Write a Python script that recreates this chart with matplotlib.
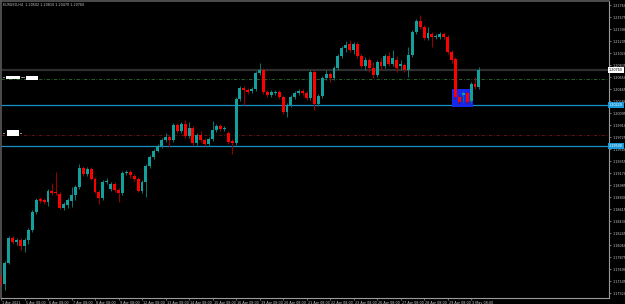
import matplotlib
matplotlib.use("Agg")
import matplotlib.pyplot as plt
import matplotlib.transforms as mtrans
from matplotlib.patches import Rectangle
import numpy as np

# ---------------- data (EURUSD H4) ----------------
opens = [1.1758, 1.1746, 1.1779, 1.1817, 1.1811, 1.1814, 1.1805, 1.1814, 1.1829, 1.1857,
         1.1877, 1.1876, 1.1873, 1.1890, 1.1888, 1.1885, 1.1863, 1.1868, 1.1874, 1.1883,
         1.1896, 1.1925, 1.1916, 1.1923, 1.1908, 1.1888, 1.1879, 1.1903, 1.1893, 1.1900,
         1.1891, 1.1886, 1.1917, 1.1919, 1.1913, 1.1908, 1.1890, 1.1903, 1.1928, 1.1942,
         1.1951, 1.1959, 1.1968, 1.1973, 1.1968, 1.1991, 1.1982, 1.1993, 1.1974, 1.1987,
         1.1964, 1.1976, 1.1968, 1.1962, 1.1970, 1.1984, 1.1990, 1.1985, 1.1979, 1.1967,
         1.1964, 1.2031, 1.2048, 1.2045, 1.2044, 1.2047, 1.2071, 1.2076, 1.2042, 1.2038,
         1.2041, 1.2042, 1.2034, 1.2011, 1.2022, 1.2034, 1.2041, 1.2044, 1.2041, 1.2033,
         1.2073, 1.2024, 1.2036, 1.2064, 1.2070, 1.2064, 1.2079, 1.2098, 1.2110, 1.2116,
         1.2107, 1.2116, 1.2098, 1.2082, 1.2091, 1.2079, 1.2068, 1.2088, 1.2082, 1.2098,
         1.2085, 1.2091, 1.2082, 1.2084, 1.2076, 1.2099, 1.2135, 1.2152, 1.2142, 1.2125,
         1.2132, 1.2127, 1.2127, 1.2132, 1.2127, 1.2104, 1.2093, 1.2034, 1.2038, 1.2041,
         1.2028, 1.2054, 1.2050]
highs = [1.1762, 1.1782, 1.1820, 1.1820, 1.1817, 1.1817, 1.1817, 1.1832, 1.1860, 1.1879,
         1.1880, 1.1879, 1.1893, 1.1902, 1.1919, 1.1888, 1.1873, 1.1879, 1.1896, 1.1899,
         1.1931, 1.1928, 1.1927, 1.1927, 1.1911, 1.1891, 1.1906, 1.1910, 1.1903, 1.1903,
         1.1894, 1.1920, 1.1922, 1.1922, 1.1916, 1.1911, 1.1906, 1.1931, 1.1945, 1.1954,
         1.1962, 1.1971, 1.1979, 1.1976, 1.1994, 1.1994, 1.1996, 1.1999, 1.1996, 1.1990,
         1.1979, 1.1982, 1.1971, 1.1973, 1.1997, 1.1993, 1.1993, 1.1990, 1.1982, 1.1970,
         1.2034, 1.2051, 1.2051, 1.2048, 1.2050, 1.2075, 1.2087, 1.2079, 1.2045, 1.2045,
         1.2045, 1.2045, 1.2038, 1.2025, 1.2038, 1.2044, 1.2047, 1.2047, 1.2044, 1.2076,
         1.2076, 1.2039, 1.2067, 1.2076, 1.2073, 1.2082, 1.2101, 1.2113, 1.2121, 1.2122,
         1.2119, 1.2119, 1.2101, 1.2096, 1.2095, 1.2088, 1.2091, 1.2095, 1.2101, 1.2104,
         1.2107, 1.2098, 1.2091, 1.2087, 1.2112, 1.2138, 1.2155, 1.2161, 1.2145, 1.2142,
         1.2135, 1.2132, 1.2135, 1.2135, 1.2130, 1.2107, 1.2096, 1.2038, 1.2044, 1.2044,
         1.2058, 1.2065, 1.2081]
lows = [1.1742, 1.1737, 1.1777, 1.1808, 1.1806, 1.1799, 1.1795, 1.1808, 1.1826, 1.1854,
        1.1871, 1.1869, 1.1866, 1.1883, 1.1883, 1.1862, 1.1860, 1.1863, 1.1865, 1.1876,
        1.1893, 1.1913, 1.1913, 1.1906, 1.1886, 1.1869, 1.1876, 1.1900, 1.1890, 1.1888,
        1.1873, 1.1883, 1.1914, 1.1910, 1.1905, 1.1888, 1.1886, 1.1880, 1.1925, 1.1939,
        1.1950, 1.1956, 1.1965, 1.1957, 1.1965, 1.1979, 1.1979, 1.1971, 1.1971, 1.1960,
        1.1960, 1.1965, 1.1959, 1.1959, 1.1967, 1.1980, 1.1982, 1.1982, 1.1962, 1.1947,
        1.1960, 1.2028, 1.2022, 1.2039, 1.2041, 1.2044, 1.2068, 1.2039, 1.2034, 1.2034,
        1.2038, 1.2031, 1.2008, 1.2004, 1.2019, 1.2031, 1.2038, 1.2038, 1.2030, 1.2030,
        1.2014, 1.2021, 1.2033, 1.2061, 1.2058, 1.2061, 1.2076, 1.2095, 1.2104, 1.2104,
        1.2101, 1.2095, 1.2079, 1.2076, 1.2073, 1.2064, 1.2065, 1.2076, 1.2079, 1.2082,
        1.2082, 1.2073, 1.2076, 1.2073, 1.2065, 1.2096, 1.2132, 1.2139, 1.2122, 1.2122,
        1.2112, 1.2124, 1.2124, 1.2124, 1.2101, 1.2087, 1.2031, 1.2024, 1.2027, 1.2024,
        1.2025, 1.2047, 1.2047]
closes = [1.1745, 1.1779, 1.1817, 1.1811, 1.1814, 1.1805, 1.1814, 1.1829, 1.1857, 1.1876,
          1.1874, 1.1873, 1.1890, 1.1886, 1.1886, 1.1863, 1.1869, 1.1876, 1.1883, 1.1896,
          1.1925, 1.1916, 1.1923, 1.1908, 1.1888, 1.1879, 1.1903, 1.1905, 1.1900, 1.1891,
          1.1886, 1.1917, 1.1919, 1.1914, 1.1908, 1.1890, 1.1903, 1.1928, 1.1942, 1.1951,
          1.1959, 1.1968, 1.1973, 1.1968, 1.1991, 1.1982, 1.1993, 1.1974, 1.1987, 1.1964,
          1.1976, 1.1968, 1.1962, 1.1970, 1.1984, 1.1990, 1.1985, 1.1987, 1.1965, 1.1964,
          1.2031, 1.2048, 1.2045, 1.2042, 1.2047, 1.2071, 1.2076, 1.2042, 1.2038, 1.2042,
          1.2042, 1.2034, 1.2011, 1.2022, 1.2034, 1.2041, 1.2044, 1.2041, 1.2033, 1.2073,
          1.2024, 1.2036, 1.2064, 1.2070, 1.2064, 1.2079, 1.2098, 1.2110, 1.2115, 1.2107,
          1.2116, 1.2098, 1.2082, 1.2091, 1.2079, 1.2068, 1.2088, 1.2082, 1.2098, 1.2085,
          1.2095, 1.2079, 1.2085, 1.2076, 1.2099, 1.2135, 1.2152, 1.2142, 1.2125, 1.2133,
          1.2127, 1.2128, 1.2132, 1.2127, 1.2104, 1.2091, 1.2034, 1.2027, 1.2041, 1.2027,
          1.2054, 1.2050, 1.2076]

time_labels = ["1 Apr 2021", "5 Apr 08:00", "6 Apr 08:00", "7 Apr 08:00", "8 Apr 08:00",
               "9 Apr 08:00", "12 Apr 08:00", "13 Apr 08:00", "14 Apr 08:00", "15 Apr 08:00",
               "16 Apr 08:00", "19 Apr 08:00", "20 Apr 08:00", "21 Apr 08:00", "22 Apr 08:00",
               "23 Apr 08:00", "26 Apr 08:00", "27 Apr 08:00", "28 Apr 08:00", "29 Apr 08:00",
               "3 May 08:00"]
bars_per_label = 6

price_tick_start = 1.17320
price_tick_step = 0.00185
price_tick_count = 25

green_level = 1.2062
red_level = 1.1976
blue_levels = [1.2022, 1.1959]
zone_start_bar, zone_end_bar = 115.0, 120.6
zone_low, zone_high = 1.2019, 1.2047

title_text = "EURUSD,H4  1.20502 1.20810 1.20470 1.20760"

# ---------------- styling ----------------
W, H = 625, 304
BULL = "#139f9b"
BEAR = "#ff0000"
BULL_WICK = "#0f6f6c"
BEAR_WICK = "#9a0000"
AXIS_TXT = "#c8c8c8"
BLUE_LINE = "#1591c8"

fig = plt.figure(figsize=(W / 100, H / 100), dpi=100, facecolor="black")
# axes pixel box: x 1..609, y 1..298
ax = fig.add_axes([1 / W, 1 - 298 / H, 608 / W, 297 / H], facecolor="black")

n = len(opens)
x = np.arange(n)
o = np.array(opens); c = np.array(closes)
hi = np.array(highs); lo = np.array(lows)
up = c >= o

px_per_bar = 3.92
first_bar_px = 0.6
ax.set_xlim((1 - first_bar_px) / px_per_bar, (609 - first_bar_px) / px_per_bar)
price_per_px = 0.00015417
price_at_top = 1.2184
ax.set_ylim(price_at_top - 298 * price_per_px, price_at_top - 1 * price_per_px)

# zone rectangle
ax.add_patch(Rectangle((zone_start_bar, zone_low), zone_end_bar - zone_start_bar,
                       zone_high - zone_low, facecolor="#1428ee", edgecolor="none", zorder=1))

# horizontal lines
ax.axhline(closes[-1], color="#2e2e2e", lw=1.6, zorder=0.5)
ax.axhline(green_level, color="#2f6e2f", lw=0.6, ls=(0, (4, 2, 1, 2)), zorder=0.6)
ax.axhline(red_level, color="#701515", lw=0.6, ls=(0, (4, 2, 1, 2)), zorder=0.6)
for lv in blue_levels:
    ax.axhline(lv, color=BLUE_LINE, lw=0.9, zorder=0.7)

# candles
ax.vlines(x, lo, hi, colors=np.where(up, BULL_WICK, BEAR_WICK), lw=0.75, zorder=2)
bottoms = np.minimum(o, c)
heights = np.maximum(np.abs(c - o), 0.00012)
ax.bar(x, heights, bottom=bottoms, width=0.75, color=np.where(up, BULL, BEAR),
       linewidth=0, zorder=3)

# axes styling
for s in ["top", "left"]:
    ax.spines[s].set_color("#5a5a5a")
    ax.spines[s].set_linewidth(1.2)
for s in ["right", "bottom"]:
    ax.spines[s].set_color("#9a9a9a")
    ax.spines[s].set_linewidth(0.8)

ticks = [price_tick_start + price_tick_step * j for j in range(price_tick_count)]
ax.yaxis.tick_right()
ax.set_yticks(ticks)
ax.set_yticklabels([f"{t:.5f}" for t in ticks])
ax.tick_params(axis="y", colors="#9a9a9a", labelcolor=AXIS_TXT, labelsize=2.4,
               length=1.5, width=0.5, pad=1)

xt = [bars_per_label * j for j in range(len(time_labels))]
ax.set_xticks(xt)
ax.set_xticklabels(time_labels)
ax.tick_params(axis="x", colors="#9a9a9a", labelcolor=AXIS_TXT, labelsize=2.4,
               length=1.5, width=0.5, pad=0.6)
shift = mtrans.ScaledTranslation(1.2 / 100, 0, fig.dpi_scale_trans)
for lbl in ax.get_xticklabels():
    lbl.set_ha("left")
    lbl.set_transform(lbl.get_transform() + shift)

# price tags on the right axis
bt = mtrans.blended_transform_factory(ax.transAxes, ax.transData)
ax.text(1.0, closes[-1], f"{closes[-1]:.5f}", transform=bt, ha="left", va="center",
        fontsize=2.4, color="black", clip_on=False, zorder=5,
        bbox=dict(boxstyle="square,pad=0.35", fc="white", ec="none"))
for lv in blue_levels:
    ax.text(1.0, lv, f"{lv:.5f}", transform=bt, ha="left", va="center",
            fontsize=2.4, color="white", clip_on=False, zorder=5,
            bbox=dict(boxstyle="square,pad=0.35", fc="#1a9ad8", ec="none"))

# left-side white text tags
def fig_rect(x0, y0, x1, y1, color):
    fig.add_artist(Rectangle((x0 / W, 1 - y1 / H), (x1 - x0) / W, (y1 - y0) / H,
                             transform=fig.transFigure, facecolor=color, edgecolor="none",
                             zorder=6))

fig_rect(6, 75.7, 20, 79.2, "white")
fig_rect(26, 75.7, 38, 80, "white")
fig_rect(7, 130.3, 19, 136.3, "white")
fig_rect(3, 76.8, 5, 78.4, "#8a8a8a")
fig_rect(21, 76.8, 25, 78.4, "#8a8a8a")
fig_rect(3, 132.5, 5, 134, "#8a8a8a")
fig_rect(20, 132.5, 22, 134, "#8a8a8a")

fig.text(3 / W, 1 - 4.5 / H, title_text, fontsize=2.4, color=AXIS_TXT, va="center", ha="left")

fig.savefig("out.png", dpi=100, facecolor="black")
